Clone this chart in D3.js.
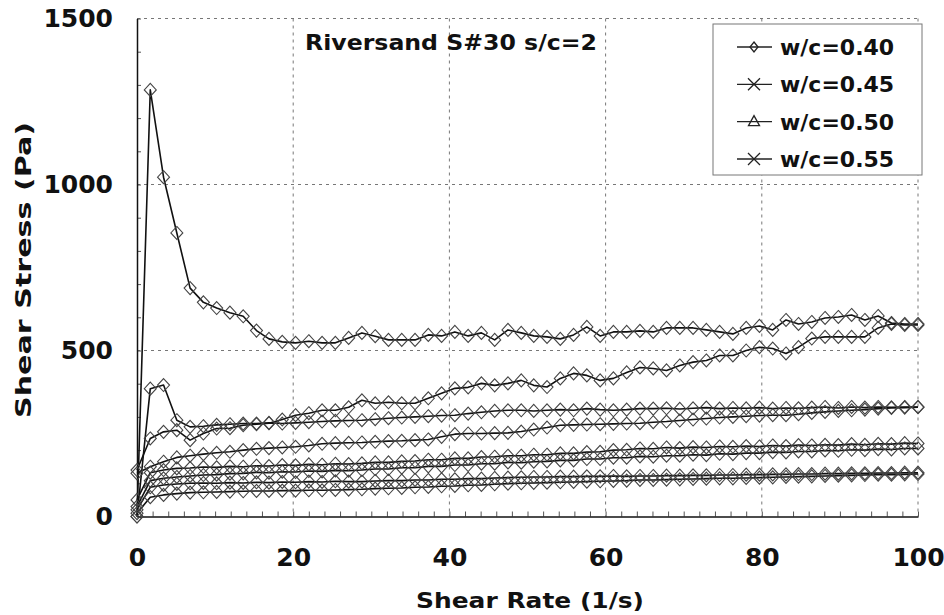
<!DOCTYPE html>
<html>
<head>
<meta charset="utf-8">
<script src="https://cdn.jsdelivr.net/npm/d3@7"></script>
<style>
  html, body { margin: 0; padding: 0; background: #fff; }
  svg { display: block; }
  text { font-family: "DejaVu Sans", Arial, sans-serif; font-weight: bold; fill: #111; }
</style>
</head>
<body>
<svg id="chart" width="944" height="615"></svg>
<script>
// ---- Data ----
const shearRate = [0, 1.7, 3.4, 5.1, 6.8, 8.5, 10.2, 11.9, 13.6, 15.3, 16.9, 18.6, 20.3, 22.0, 23.7, 25.4, 27.1, 28.8, 30.5, 32.2,
  33.9, 35.6, 37.3, 39.0, 40.7, 42.4, 44.1, 45.8, 47.5, 49.2, 50.8, 52.5, 54.2, 55.9, 57.6, 59.3, 61.0, 62.7, 64.4, 66.1,
  67.8, 69.5, 71.2, 72.9, 74.6, 76.3, 78.0, 79.7, 81.4, 83.1, 84.7, 86.4, 88.1, 89.8, 91.5, 93.2, 94.9, 96.6, 98.3, 100];

const wc040up = [0, 1285, 1022, 854, 688, 645, 628, 614, 603, 560, 535, 526, 523, 528, 523, 523, 538, 553, 543, 532,
  532, 532, 547, 544, 556, 544, 553, 532, 562, 553, 544, 541, 535, 547, 571, 544, 556, 556, 559, 556,
  568, 568, 568, 562, 556, 550, 568, 574, 562, 592, 580, 586, 598, 601, 607, 592, 604, 583, 580, 580];
const wc040down = [140, 235, 255, 260, 230, 250, 265, 266, 275, 278, 281, 292, 305, 311, 320, 320, 329, 350, 341, 344,
  341, 341, 356, 371, 386, 389, 401, 395, 401, 410, 395, 390, 416, 431, 425, 410, 416, 434, 449, 446,
  440, 455, 465, 470, 485, 485, 500, 510, 506, 491, 510, 536, 541, 541, 541, 541, 568, 580, 577, 577];
const wc045up = [0, 385, 396, 290, 270, 272, 276, 278, 280, 280, 282, 280, 282, 284, 286, 288, 289, 290, 293, 296,
  298, 300, 302, 304, 305, 310, 314, 318, 320, 320, 318, 320, 322, 320, 325, 322, 320, 322, 325, 325,
  326, 324, 326, 328, 325, 327, 326, 328, 325, 327, 326, 328, 330, 327, 330, 328, 330, 329, 330, 330];
const wc045down = [130, 150, 165, 178, 183, 188, 192, 195, 200, 204, 206, 208, 210, 214, 219, 221, 222, 223, 225, 227,
  228, 230, 232, 240, 248, 250, 250, 251, 252, 256, 262, 268, 275, 276, 277, 278, 279, 280, 281, 284,
  286, 289, 292, 295, 298, 300, 302, 304, 305, 305, 308, 312, 315, 318, 320, 322, 325, 327, 328, 329];
const wc050up = [50, 132, 140, 145, 146, 149, 148, 151, 150, 153, 152, 155, 154, 157, 156, 159, 158, 160, 163, 163,
  166, 167, 171, 171, 175, 175, 179, 180, 183, 183, 186, 186, 190, 190, 194, 195, 200, 201, 205, 204,
  208, 206, 209, 208, 211, 210, 212, 211, 214, 212, 215, 214, 216, 215, 218, 216, 219, 218, 221, 220];
const wc050down = [30, 108, 115, 119, 122, 125, 126, 129, 130, 133, 132, 135, 134, 137, 136, 139, 138, 140, 143, 143,
  147, 147, 151, 151, 155, 155, 159, 159, 163, 162, 165, 166, 169, 169, 173, 173, 177, 177, 181, 180,
  183, 183, 186, 185, 189, 188, 191, 191, 194, 193, 196, 196, 199, 198, 201, 200, 203, 202, 205, 205];
const wc055up = [20, 88, 95, 98, 100, 101, 100, 102, 101, 103, 102, 104, 103, 105, 104, 106, 105, 105, 107, 108,
  108, 110, 110, 112, 112, 114, 114, 116, 117, 118, 119, 119, 120, 120, 121, 121, 122, 121, 122, 122,
  123, 123, 124, 124, 125, 125, 126, 126, 127, 127, 128, 128, 129, 129, 130, 130, 131, 131, 132, 132];
const wc055down = [10, 58, 65, 69, 72, 73, 74, 75, 76, 77, 77, 78, 78, 79, 79, 80, 81, 82, 84, 85,
  86, 88, 89, 91, 92, 94, 95, 97, 99, 100, 101, 102, 103, 104, 105, 106, 107, 108, 110, 110,
  111, 112, 113, 114, 115, 115, 116, 117, 118, 119, 120, 121, 122, 123, 124, 125, 126, 126, 127, 128];

const legendLabels = ["w/c=0.40", "w/c=0.45", "w/c=0.50", "w/c=0.55"];
const legendMarkers = ["circle", "cross", "triangle", "cross"];
const xTicks = [0, 20, 40, 60, 80, 100];
const yTicks = [0, 500, 1000, 1500];
const titleText = "Riversand S#30 s/c=2";
const xLabel = "Shear Rate (1/s)";
const yLabel = "Shear Stress (Pa)";

const seriesList = [wc040up, wc040down, wc045up, wc045down, wc050up, wc050down, wc055up, wc055down];

// ---- Layout ----
const svg = d3.select("#chart");
const L = 137, R = 918, T = 18.5, B = 516.5;
const x = d3.scaleLinear().domain([0, 100]).range([L, R]);
const y = d3.scaleLinear().domain([0, 1500]).range([B, T]);

svg.append("rect").attr("width", 944).attr("height", 615).attr("fill", "#fff");

// grid (dashed)
const grid = svg.append("g").attr("stroke", "#777").attr("stroke-width", 1).attr("stroke-dasharray", "3,4");
grid.selectAll("line.v").data(xTicks.slice(1)).join("line")
  .attr("x1", d => x(d)).attr("x2", d => x(d)).attr("y1", T).attr("y2", B);
grid.selectAll("line.h").data(yTicks.slice(1)).join("line")
  .attr("x1", L).attr("x2", R).attr("y1", d => y(d)).attr("y2", d => y(d));

// minor ticks
svg.append("g").attr("transform", `translate(0,${B})`)
  .call(d3.axisBottom(x).tickValues(d3.range(0, 101, 2)).tickSize(-5).tickFormat(""))
  .call(g => g.select(".domain").remove())
  .call(g => g.selectAll("line").attr("stroke", "#555"));
svg.append("g").attr("transform", `translate(${L},0)`)
  .call(d3.axisLeft(y).tickValues(d3.range(0, 1501, 100)).tickSize(-4).tickFormat(""))
  .call(g => g.select(".domain").remove())
  .call(g => g.selectAll("line").attr("stroke", "#555"));

// main axes with labels
svg.append("g").attr("transform", `translate(0,${B})`)
  .call(d3.axisBottom(x).tickValues(xTicks).tickSize(0).tickPadding(32).tickFormat(d3.format("d")))
  .call(g => g.select(".domain").attr("stroke", "#111").attr("stroke-width", 1.5))
  .call(g => g.selectAll("text").attr("font-size", 25).attr("fill", "#111"));
svg.append("g").attr("transform", `translate(${L},0)`)
  .call(d3.axisLeft(y).tickValues(yTicks).tickSize(0).tickPadding(24).tickFormat(d3.format("d")))
  .call(g => g.select(".domain").attr("stroke", "#111").attr("stroke-width", 1.5))
  .call(g => g.selectAll("text").attr("font-size", 25).attr("fill", "#111"));

// series
const line = d3.line().x((d, i) => x(shearRate[i])).y(d => y(d));
const plot = svg.append("g");
seriesList.forEach(s => {
  plot.append("path").datum(s).attr("d", line)
    .attr("fill", "none").attr("stroke", "#111").attr("stroke-width", 1.6).attr("stroke-linejoin", "round");
});
const diamond = "M0,-6.5L6,0L0,6.5L-6,0Z";
seriesList.forEach(s => {
  plot.append("g").selectAll("path").data(s).join("path")
    .attr("transform", (d, i) => `translate(${x(shearRate[i])},${y(d)})`)
    .attr("d", diamond).attr("fill", "none").attr("stroke", "#444").attr("stroke-width", 1.1);
});

// title
svg.append("text").attr("x", 451).attr("y", 50).attr("text-anchor", "middle")
  .attr("font-size", 22).attr("textLength", 292).attr("lengthAdjust", "spacingAndGlyphs").text(titleText);

// axis titles
svg.append("text").attr("x", 530).attr("y", 608).attr("text-anchor", "middle")
  .attr("font-size", 22).attr("textLength", 228).attr("lengthAdjust", "spacingAndGlyphs").text(xLabel);
svg.append("text").attr("transform", "translate(31,270) rotate(-90)").attr("text-anchor", "middle")
  .attr("font-size", 22).attr("textLength", 296).attr("lengthAdjust", "spacingAndGlyphs").text(yLabel);

// legend
const lg = svg.append("g");
lg.append("rect").attr("x", 713).attr("y", 24).attr("width", 209).attr("height", 151)
  .attr("fill", "#fff").attr("stroke", "#777").attr("stroke-width", 1);
const ly = d3.scalePoint().domain(legendLabels).range([47, 159]);
legendLabels.forEach((lab, k) => {
  const cy = ly(lab);
  lg.append("line").attr("x1", 737).attr("x2", 772).attr("y1", cy).attr("y2", cy).attr("stroke", "#222").attr("stroke-width", 1.4);
  const m = legendMarkers[k];
  const g = lg.append("g").attr("transform", `translate(754,${cy})`).attr("fill", "none").attr("stroke", "#222").attr("stroke-width", 1.3);
  if (m === "circle") g.append("path").attr("d", "M0,-5L4,0L0,5L-4,0Z");
  else if (m === "triangle") g.append("path").attr("d", "M0,-6L5.5,4L-5.5,4Z");
  else g.append("path").attr("d", "M-6,-6L6,6M-6,6L6,-6");
  lg.append("text").attr("x", 780).attr("y", cy + 8).attr("font-size", 22).text(lab);
});
</script>
</body>
</html>
